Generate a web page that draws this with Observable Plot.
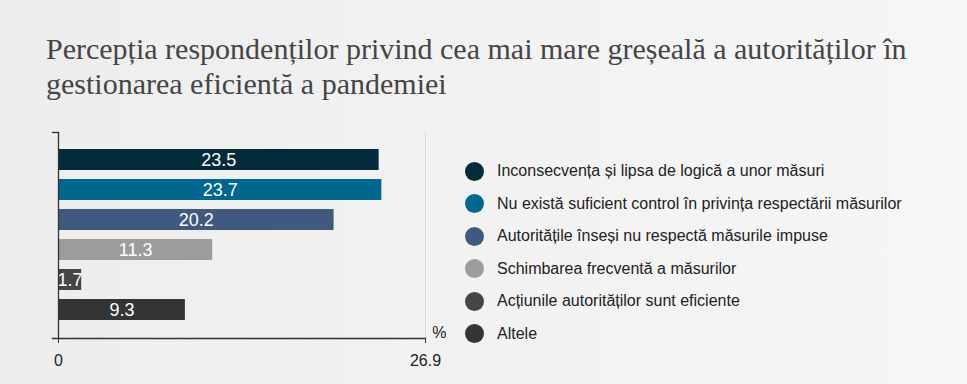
<!DOCTYPE html>
<html>
<head>
<meta charset="utf-8">
<script src="https://cdn.jsdelivr.net/npm/d3@7"></script>
<script src="https://cdn.jsdelivr.net/npm/@observablehq/plot@0.6"></script>
<style>
  html, body { margin: 0; padding: 0; }
  body {
    width: 967px; height: 384px; overflow: hidden; position: relative;
    background: linear-gradient(90deg, #ededed 0%, #f2f2f2 50%, #f6f6f6 100%);
    font-family: "Liberation Sans", Arial, sans-serif;
  }
  #title {
    position: absolute; left: 46px; top: 31px; width: 920px; white-space: nowrap;
    font-family: "Liberation Serif", "Times New Roman", serif;
    font-size: 30px; line-height: 35px; color: #454545;
  }
  #chart { position: absolute; left: 0; top: 125px; }
  #legend { position: absolute; left: 465px; top: 155px; }
  .row { display: flex; align-items: center; height: 32.5px; font-size: 16px; color: #222; }
  .dot { width: 19px; height: 19px; border-radius: 50%; margin-right: 13px; }
</style>
</head>
<body>
<div id="title">Percepția respondenților privind cea mai mare greșeală a autorităților în<br>gestionarea eficientă a pandemiei</div>
<div id="chart"></div>
<div id="legend"></div>
<script>
const categories = [
  "Inconsecvența și lipsa de logică a unor măsuri",
  "Nu există suficient control în privința respectării măsurilor",
  "Autoritățile înseși nu respectă măsurile impuse",
  "Schimbarea frecventă a măsurilor",
  "Acțiunile autorităților sunt eficiente",
  "Altele"
];
const values = [23.5, 23.7, 20.2, 11.3, 1.7, 9.3];
const colors = ["#032b3c", "#00678f", "#3f5a7e", "#9c9c9c", "#454545", "#343434"];
const xTicks = [0, 26.9];
const unitLabel = "%";

const data = categories.map((c, i) => ({category: c, value: values[i]}));

const plot = Plot.plot({
  width: 967,
  height: 259,
  marginLeft: 58,
  marginRight: 542,
  marginTop: 7,
  marginBottom: 46,
  style: {background: "transparent", fontFamily: "'Liberation Sans', Arial, sans-serif"},
  x: {domain: [0, 26.9]},
  y: {domain: categories, paddingInner: 0.29, paddingOuter: 0.47},
  color: {domain: categories, range: colors},
  marks: [
    Plot.ruleX([26.9], {stroke: "#d9d9d9", strokeWidth: 1}),
    Plot.barX(data, {y: "category", x: "value", fill: "category"}),
    Plot.text(data, {y: "category", x: d => d.value / 2, text: d => d3.format(".1f")(d.value), fill: "white", fontSize: 18}),
    Plot.frame({anchor: "left", stroke: "#333", strokeWidth: 1.3}),
    Plot.frame({anchor: "bottom", stroke: "#333", strokeWidth: 1.3, insetLeft: -6}),
    Plot.frame({anchor: "top", stroke: "#333", strokeWidth: 1.3, insetLeft: -6, insetRight: 367}),
    Plot.axisX({ticks: xTicks, tickFormat: d => d === 0 ? "0" : d3.format(".1f")(d), tickSize: 5, tickPadding: 11, fontSize: 16, stroke: "#333", label: null, color: "#222"}),
    Plot.axisY({ticks: [], label: null}),
    Plot.text([unitLabel], {frameAnchor: "bottom-right", dx: 21, dy: -1, fontSize: 16, fill: "#222"})
  ]
});
document.getElementById("chart").appendChild(plot);

const legend = d3.select("#legend");
categories.forEach((c, i) => {
  const row = legend.append("div").attr("class", "row");
  row.append("div").attr("class", "dot").style("background", colors[i]);
  row.append("span").text(c);
});
</script>
</body>
</html>
